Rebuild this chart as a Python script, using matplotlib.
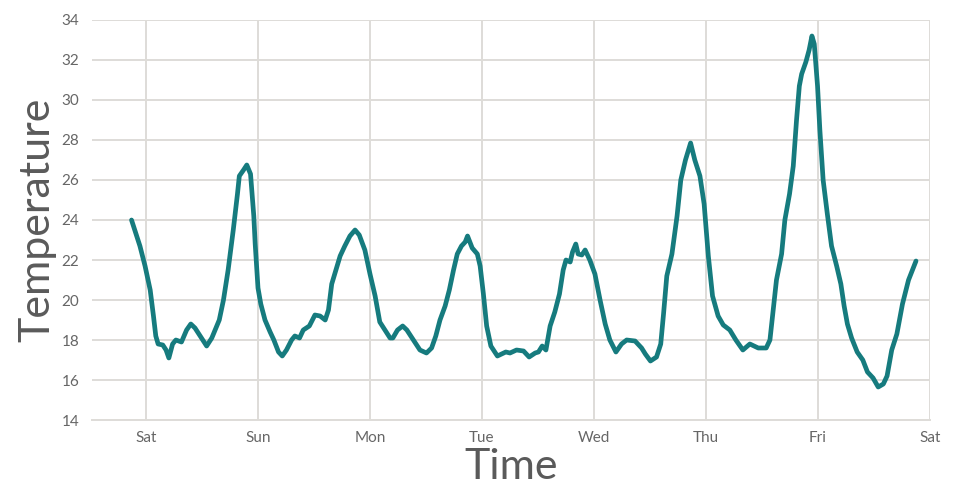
import matplotlib
matplotlib.use("Agg")
import matplotlib.pyplot as plt

# hours since Saturday 00:00
hours = [-3.1, -1.3, -0.2, 0.9, 1.6, 2.1, 2.6, 3.6, 4.3, 4.9, 5.7, 6.4, 7.6, 8.7, 9.6, 10.5,
         11.9, 13.0, 14.1, 15.7, 16.6, 17.6, 18.7, 19.6, 20.0, 20.9, 21.6, 22.4, 23.1, 23.4,
         24.0, 24.6, 25.5, 26.6, 27.4, 28.4, 29.2, 30.1, 31.2, 31.9, 32.9, 33.7, 35.0, 36.2,
         37.3, 38.4, 39.1, 39.8, 40.7, 41.6, 42.6, 43.7, 44.8, 45.7, 46.9, 48.0, 49.1, 50.1,
         51.2, 52.3, 52.9, 53.9, 55.0, 55.9, 57.3, 58.7, 60.1, 61.2, 62.1, 63.0, 64.1, 65.0,
         65.9, 66.7, 67.6, 68.4, 68.9, 69.9, 71.0, 71.6, 72.3, 73.0, 73.9, 75.3, 77.1, 78.0,
         79.4, 80.9, 82.1, 83.4, 84.1, 84.9, 85.7, 86.6, 87.6, 88.6, 89.4, 90.0, 90.9, 91.4,
         92.1, 92.6, 93.4, 94.1, 95.1, 96.2, 97.3, 98.4, 99.4, 100.7, 101.9, 103.0, 104.8,
         106.2, 107.0, 108.1, 109.4, 110.3, 110.9, 111.6, 112.7, 113.8, 114.6, 115.6, 116.7,
         117.6, 118.7, 119.6, 120.5, 121.4, 122.6, 123.7, 125.1, 126.4, 127.9, 129.4, 131.2,
         132.9, 133.7, 134.4, 135.1, 136.2, 136.9, 137.9, 138.7, 139.4, 140.0, 140.5, 141.4,
         142.1, 142.7, 143.2, 143.9, 144.4, 145.1, 146.0, 146.9, 148.0, 148.9, 149.6, 150.3,
         151.2, 152.4, 153.6, 154.6, 155.8, 156.9, 158.0, 158.8, 159.8, 160.9, 162.1, 163.4,
         165.0]
temperature = [24.0, 22.7, 21.7, 20.5, 19.2, 18.2, 17.8, 17.75, 17.5, 17.1, 17.8, 18.0, 17.9, 18.5, 18.8, 18.6,
               18.1, 17.7, 18.1, 19.0, 20.0, 21.5, 23.5, 25.3, 26.2, 26.5, 26.75, 26.3, 24.2, 22.8,
               20.6, 19.8, 19.0, 18.4, 18.0, 17.4, 17.2, 17.5, 18.0, 18.2, 18.1, 18.5, 18.7, 19.25,
               19.2, 19.0, 19.5, 20.8, 21.5, 22.2, 22.7, 23.2, 23.5, 23.25, 22.5, 21.3, 20.2, 18.9,
               18.5, 18.1, 18.1, 18.5, 18.7, 18.5, 18.0, 17.5, 17.35, 17.6, 18.2, 19.0, 19.7, 20.5,
               21.5, 22.3, 22.7, 22.9, 23.2, 22.6, 22.3, 21.7, 20.3, 18.7, 17.7, 17.2, 17.4, 17.35,
               17.5, 17.45, 17.15, 17.35, 17.4, 17.7, 17.5, 18.7, 19.4, 20.3, 21.5, 22.0, 21.9, 22.4,
               22.8, 22.3, 22.25, 22.5, 22.0, 21.3, 20.0, 18.8, 18.0, 17.4, 17.8, 18.0, 17.95,
               17.6, 17.3, 16.95, 17.15, 17.8, 19.3, 21.2, 22.3, 24.2, 26.0, 27.0, 27.85,
               27.0, 26.2, 24.8, 22.2, 20.2, 19.2, 18.75, 18.5, 18.0, 17.5, 17.8, 17.6,
               17.6, 18.0, 19.5, 21.0, 22.3, 24.0, 25.3, 26.7, 29.0, 30.7, 31.3, 31.9,
               32.5, 33.2, 32.8, 30.7, 28.5, 26.0, 24.3, 22.7, 21.7, 20.8, 19.7, 18.8,
               18.1, 17.4, 17.0, 16.4, 16.1, 15.65, 15.8, 16.2, 17.5, 18.3, 19.8, 21.0,
               21.95]

tick_hours = [0, 24, 48, 72, 96, 120, 144, 168]
tick_labels = ["Sat", "Sun", "Mon", "Tue", "Wed", "Thu", "Fri", "Sat"]
y_ticks = [14, 16, 18, 20, 22, 24, 26, 28, 30, 32, 34]

plt.rcParams["font.family"] = ["Lato", "DejaVu Sans"]

fig = plt.figure(figsize=(9.6, 5.0), dpi=100)
ax = fig.add_axes([92 / 960, 80 / 500, (930 - 92) / 960, 400 / 500])

ax.plot(hours, temperature, color="#167b7e", linewidth=3.4,
        solid_joinstyle="round", solid_capstyle="round", zorder=3)

ax.set_xlim(-11.57, 168)
ax.set_ylim(14, 34)
ax.set_xticks(tick_hours)
ax.set_xticklabels(tick_labels)
ax.set_yticks(y_ticks)

ax.grid(True, color="#dedcd8", linewidth=1.4)
ax.set_axisbelow(True)
for side in ["left", "top", "right"]:
    ax.spines[side].set_visible(False)
ax.spines["bottom"].set_color("#dedcd8")
ax.spines["bottom"].set_linewidth(1.4)

ax.tick_params(axis="both", length=0, labelsize=11, labelcolor="#666666")
ax.tick_params(axis="x", pad=8)
ax.tick_params(axis="y", pad=9)

ax.set_xlabel("Time", fontsize=31, color="#5a5a5a", fontweight="normal", labelpad=2)
ax.set_ylabel("Temperature", fontsize=31, color="#5a5a5a", fontweight="normal", labelpad=4)

fig.savefig("out.png", dpi=100)
